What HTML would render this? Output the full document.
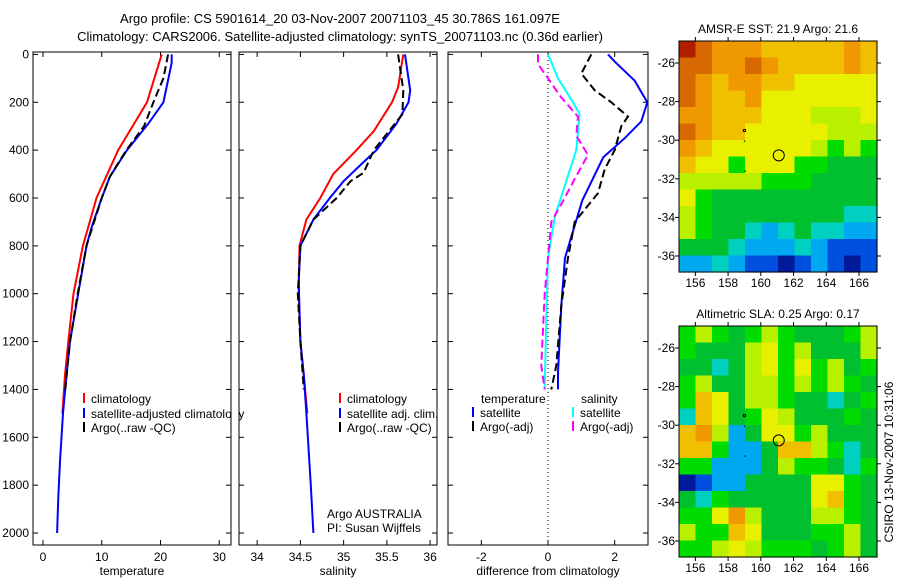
<!DOCTYPE html>
<html><head><meta charset="utf-8"><style>
html,body{margin:0;padding:0;background:#fff;}
svg{display:block;font-family:"Liberation Sans",sans-serif;}
</style></head><body>
<svg id="fig" width="900" height="580" viewBox="0 0 900 580">
<text x="340" y="23" font-size="13" text-anchor="middle">Argo profile: CS 5901614_20 03-Nov-2007 20071103_45 30.786S 161.097E</text>
<text x="340" y="41" font-size="13" text-anchor="middle">Climatology: CARS2006. Satellite-adjusted climatology: synTS_20071103.nc (0.36d earlier)</text>
<text transform="translate(893,462) rotate(-90)" font-size="12" text-anchor="middle">CSIRO 13-Nov-2007 10:31:06</text>
</svg>
<script>
// ---- data ----
const depthTicks=[0,200,400,600,800,1000,1200,1400,1600,1800,2000];
const tempTicks=[0,10,20,30];
const salTicks=[34,34.5,35,35.5,36];
const salTickLabels=["34","34.5","35","35.5","36"];
const diffTicks=[-2,0,2];
const tClimDepth=[0,200,400,600,800,1000,1200,1340,1500];
const tClimVal=[20.2,17.7,12.8,9.1,6.8,5.2,4.3,3.75,3.3];
const tSatDepth=[0,35,200,290,400,510,600,720,800,1000,1200,1340,1500,1700,1850,2000];
const tSatVal=[21.9,21.9,20.5,17.9,14.3,11.4,10,8.3,7.4,6.0,4.6,4.0,3.4,2.9,2.6,2.4];
const tArgoDepth=[0,100,200,300,400,510,600,800,1000,1200,1400];
const tArgoVal=[21.3,20.5,18.8,17.2,14.2,11.4,10,7.4,5.9,4.6,3.8];
const sClimDepth=[0,138,200,320,400,500,600,690,800,1000,1200,1340,1500];
const sClimVal=[35.69,35.63,35.56,35.35,35.15,34.88,34.73,34.57,34.49,34.48,34.5,34.54,34.58];
const sSatDepth=[0,150,200,290,400,450,530,600,690,800,950,1200,1340,1500,1800,2000];
const sSatVal=[35.71,35.77,35.75,35.61,35.38,35.23,35.0,34.84,34.65,34.5,34.48,34.5,34.54,34.57,34.62,34.65];
const sArgoDepth=[0,150,250,400,495,530,600,690,800,1000,1200,1400];
const sArgoVal=[35.63,35.69,35.68,35.35,35.23,35.08,34.92,34.65,34.5,34.47,34.5,34.54];
const dTSatDepth=[0,30,110,200,280,350,430,610,850,1050,1330,1400];
const dTSatVal=[1.8,2.0,2.6,2.98,2.8,2.3,1.66,1.03,0.51,0.4,0.3,0.3];
const dTArgoDepth=[0,80,150,200,260,300,400,480,580,700,850,1050,1300,1400];
const dTArgoVal=[1.3,1.0,1.4,1.9,2.4,2.2,2.0,1.7,1.5,0.8,0.6,0.4,0.25,0.1];
const dSSatDepth=[0,100,200,250,400,550,680,850,1100,1400];
const dSSatVal=[0,0.3,0.75,0.95,0.85,0.5,0.2,0,-0.05,-0.1];
const dSArgoDepth=[0,40,100,180,260,340,420,520,600,700,1000,1300,1400];
const dSArgoVal=[-0.3,-0.3,0,0.4,0.9,0.85,1.2,0.8,0.5,0.1,-0.1,-0.2,-0.1];
const lonTicks=[156,158,160,162,164,166];
const latTicks=[-26,-28,-30,-32,-34,-36];
const sstGrid=[
[11,10,9,9,9,8,8,8,8,8,9,8],
[10,10,9,9,10,9,8,8,8,8,9,8],
[10,9,8,9,9,8,8,7,7,7,7,7],
[10,9,8,8,9,7,7,7,7,7,7,7],
[9,9,8,8,8,7,7,7,6,6,6,7],
[10,9,8,8,7,7,7,7,7,6,6,6],
[9,8,7,7,7,7,7,7,6,5,6,5],
[8,7,7,5,7,7,7,5,5,4,4,4],
[6,6,6,6,6,5,5,5,4,4,4,4],
[7,5,4,4,4,4,4,4,4,4,4,4],
[6,5,4,4,4,4,4,4,4,4,3,3],
[6,5,4,4,3,2,3,4,3,3,2,2],
[4,4,4,3,2,2,2,3,2,1,1,1],
[2,2,3,2,1,1,0,1,2,1,0,1]];
const slaGrid=[
[5,6,5,4,5,6,5,4,4,4,5,6],
[5,4,4,4,6,7,5,6,4,4,4,6],
[4,4,3,4,6,7,5,7,5,6,4,5],
[5,6,4,4,6,6,5,6,5,6,5,4],
[5,8,7,4,6,6,5,4,4,3,4,5],
[3,8,7,4,5,7,6,4,4,4,5,4],
[8,9,6,2,4,7,7,5,6,4,4,4],
[8,8,5,2,2,4,8,8,6,5,3,4],
[5,5,2,2,2,4,6,5,5,4,3,5],
[0,1,2,2,4,4,4,4,7,7,5,4],
[4,3,5,4,4,4,4,4,7,8,5,4],
[5,5,7,9,6,4,4,4,6,6,5,4],
[6,5,5,8,7,4,4,4,5,5,6,4],
[5,5,6,7,6,5,5,5,4,5,6,4]];
const argoLon=161.097, argoLat=-30.786;
const palette=["#001a99","#0050e0","#00a8f0","#00d0c0","#00c030","#00dc00","#b8f000","#e8f000","#f0c000","#f09800","#d86800","#b02000"];

const svg=document.getElementById('fig');
const NS='http://www.w3.org/2000/svg';
function mk(tag,attrs,parent){const e=document.createElementNS(NS,tag);for(const k in attrs)e.setAttribute(k,attrs[k]);(parent||svg).appendChild(e);return e;}
function txt(x,y,s,size,anchor,parent){const t=mk('text',{x:x,y:y,'font-size':size,'text-anchor':anchor||'start'},parent);t.textContent=s;return t;}
const yTop=52,yBot=545,dMin=-10,dMax=2050;
function yD(d){return yTop+(d-dMin)/(dMax-dMin)*(yBot-yTop);}

function panel(name,x0,x1,vmin,vmax,ticks,labels,xlabel){
  const g=mk('g',{});
  
  
  const sx=v=>x0+(v-vmin)/(vmax-vmin)*(x1-x0);
  ticks.forEach((t,i)=>{const x=sx(t);mk('line',{x1:x,x2:x,y1:yBot,y2:yBot-5,stroke:'#000'},g);mk('line',{x1:x,x2:x,y1:yTop,y2:yTop+5,stroke:'#000'},g);
    const l=txt(x,yBot+16,labels[i],12,'middle',g);});
  depthTicks.forEach(d=>{const y=yD(d);mk('line',{x1:x0,x2:x0+5,y1:y,y2:y,stroke:'#000'},g);mk('line',{x1:x1,x2:x1-5,y1:y,y2:y,stroke:'#000'},g);});
  const xl=txt((x0+x1)/2,yBot+30,xlabel,12,'middle',g);
  
  return {g,sx};
}
function line(p,depths,vals,color,dash,name,w){
  const pts=depths.map((d,i)=>p.sx(vals[i]).toFixed(1)+','+yD(d).toFixed(1)).join(' ');
  const pl=mk('polyline',{points:pts,fill:'none',stroke:color,'stroke-width':w||2,'stroke-dasharray':dash||'none'},p.g);
  
}
function frame(g,x0,x1){mk('rect',{x:x0,y:yTop,width:x1-x0,height:yBot-yTop,fill:'none',stroke:'#000'},g);}
function legend(g,x,y,color,label){mk('line',{x1:x,x2:x,y1:y-10,y2:y,stroke:color,'stroke-width':2},g);const t=txt(x+7,y,label,12,'start',g);}

// Panel 1
const p1=panel('temperature-panel',33,231,-1.7,32,tempTicks,tempTicks.map(String),'temperature');
depthTicks.forEach(d=>{const l=txt(29,yD(d)+4,String(d),12,'end',p1.g);});
line(p1,tClimDepth,tClimVal,'#f00',null,'temp-climatology-line');
line(p1,tSatDepth,tSatVal,'#00f',null,'temp-satellite-line');
line(p1,tArgoDepth,tArgoVal,'#000','8,4','temp-argo-line');
frame(p1.g,33,231);
legend(p1.g,84,403,'#f00','climatology');
legend(p1.g,84,418,'#00f','satellite-adjusted climatology');
legend(p1.g,84,432,'#000','Argo(..raw -QC)');
mk('rect',{x:232,y:380,width:6,height:60,fill:'#fff'},p1.g);

// Panel 2
const p2=panel('salinity-panel',239,437,33.79,36.08,salTicks,salTickLabels,'salinity');
line(p2,sClimDepth,sClimVal,'#f00',null,'sal-climatology-line');
line(p2,sSatDepth,sSatVal,'#00f',null,'sal-satellite-line');
line(p2,sArgoDepth,sArgoVal,'#000','8,4','sal-argo-line');
frame(p2.g,239,437);
legend(p2.g,340,403,'#f00','climatology');
legend(p2.g,340,418,'#00f','satellite adj. clim.');
legend(p2.g,340,432,'#000','Argo(..raw -QC)');
const ag=txt(327,518,'Argo AUSTRALIA',12,'start',p2.g);
const pi=txt(327,532,'PI: Susan Wijffels',12,'start',p2.g);

// Panel 3
const p3=panel('difference-panel',448,648,-3,3,diffTicks,diffTicks.map(String),'difference from climatology');
const zx=p3.sx(0);
const zl=mk('line',{x1:zx,x2:zx,y1:yTop,y2:yBot,stroke:'#000','stroke-dasharray':'1,3'},p3.g);

line(p3,dTSatDepth,dTSatVal,'#00f',null,'diff-temp-satellite-line');
line(p3,dTArgoDepth,dTArgoVal,'#000','8,4','diff-temp-argo-line');
line(p3,dSSatDepth,dSSatVal,'#0ff',null,'diff-sal-satellite-line');
line(p3,dSArgoDepth,dSArgoVal,'#f0f','8,4','diff-sal-argo-line');
frame(p3.g,448,648);
const tl=txt(481,403,'temperature',12,'start',p3.g);
const sl=txt(581,403,'salinity',12,'start',p3.g);
legend(p3.g,473,417,'#00f','satellite');
legend(p3.g,473,431,'#000','Argo(-adj)');
legend(p3.g,573,417,'#0ff','satellite');
legend(p3.g,573,431,'#f0f','Argo(-adj)');

// Maps
function map(name,grid,x0,y0,x1,y1,title){
  const g=mk('g',{});
  
  const lon0=155.0,lon1=167.1,lat0=-24.86,lat1=-36.83;
  const sx=v=>x0+(v-lon0)/(lon1-lon0)*(x1-x0);
  const sy=v=>y0+(v-lat0)/(lat1-lat0)*(y1-y0);
  const rows=grid.length,cols=grid[0].length;
  const cw=(x1-x0)/cols,ch=(y1-y0)/rows;
  grid.forEach((row,r)=>row.forEach((v,c)=>{
    const cell=mk('rect',{x:x0+c*cw,y:y0+r*ch,width:cw+0.6,height:ch+0.6,fill:palette[v]},g);
    
    
  }));
  mk('rect',{x:x0,y:y0,width:x1-x0,height:y1-y0,fill:'none',stroke:'#000'},g);
  lonTicks.forEach(l=>{const x=sx(l);mk('line',{x1:x,x2:x,y1:y1,y2:y1+4,stroke:'#000'},g);mk('line',{x1:x,x2:x,y1:y0,y2:y0-4,stroke:'#000'},g);
    const t=txt(x,y1+15,String(l),12,'middle',g);});
  latTicks.forEach(l=>{const y=sy(l);mk('line',{x1:x0,x2:x0-4,y1:y,y2:y,stroke:'#000'},g);mk('line',{x1:x1,x2:x1+4,y1:y,y2:y,stroke:'#000'},g);
    const t=txt(x0-4,y+4,String(l),12,'end',g);});
  const c=mk('circle',{cx:sx(argoLon),cy:sy(argoLat),r:5.5,fill:'none',stroke:'#000'},g);
  
  mk('circle',{cx:sx(159),cy:sy(-29.5),r:1.2,fill:'none',stroke:'#000'},g);
  mk('circle',{cx:sx(159),cy:sy(-30.05),r:0.7,fill:'#000'},g);
  mk('circle',{cx:sx(159.05),cy:sy(-31.6),r:0.7,fill:'#000'},g);
  const tt=txt((x0+x1)/2,y0-8,title,12,'middle',g);
}
map('sst-map',sstGrid,679,41,877,272,'AMSR-E SST: 21.9 Argo: 21.6');
map('sla-map',slaGrid,679,326,877,557,'Altimetric SLA: 0.25 Argo: 0.17');
</script>
</body></html>
